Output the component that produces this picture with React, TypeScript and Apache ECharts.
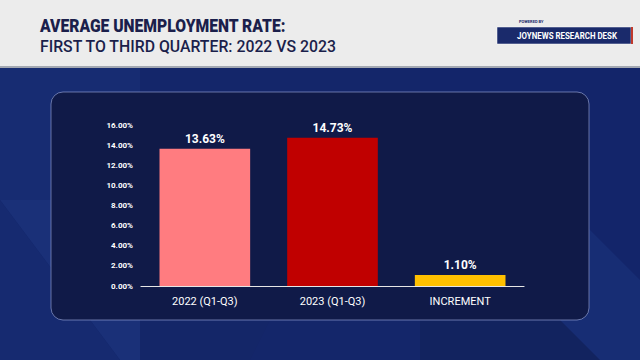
import React, { useEffect, useRef } from "react";
import * as echarts from "echarts";

const categories = ["2022 (Q1-Q3)", "2023 (Q1-Q3)", "INCREMENT"];
const values = [13.63, 14.73, 1.1];
const barColors = ["#ff7c80", "#c00000", "#ffc000"];
const yTicks = { min: 0, max: 16, interval: 2 };
const titleLine1 = "AVERAGE UNEMPLOYMENT RATE:";
const titleLine2 = "FIRST TO THIRD QUARTER: 2022 VS 2023";
const badgeSmall = "POWERED BY";
const badgeText = "JOYNEWS RESEARCH DESK";

export default function App() {
  const ref = useRef<HTMLDivElement>(null);
  useEffect(() => {
    if (!ref.current) return;
    const chart = echarts.init(ref.current, null, { renderer: "svg" });
    chart.setOption({
      animation: false,
      backgroundColor: "#14266a",
      graphic: [
        // background polygons
        { type: "polygon", z: -10, shape: { points: [[0, 68], [140, 68], [140, 200], [0, 200]] }, style: { fill: "#172c72" } },
        { type: "polygon", z: -10, shape: { points: [[0, 200], [140, 200], [140, 360], [120, 360]] }, style: { fill: "#1a3078" } },
        { type: "polygon", z: -10, shape: { points: [[0, 200], [120, 360], [0, 360]] }, style: { fill: "#162a70" } },
        { type: "polygon", z: -10, shape: { points: [[140, 300], [280, 300], [250, 360], [140, 360]] }, style: { fill: "#142668" } },
        { type: "polygon", z: -10, shape: { points: [[420, 68], [640, 68], [640, 280], [560, 200], [420, 90]] }, style: { fill: "#13256a" } },
        { type: "polygon", z: -10, shape: { points: [[560, 200], [640, 280], [640, 360], [560, 360]] }, style: { fill: "#172d74" } },
        { type: "polygon", z: -10, shape: { points: [[420, 320], [560, 320], [600, 360], [420, 360]] }, style: { fill: "#12235f" } },
        // header
        { type: "rect", z: -5, shape: { x: 0, y: 0, width: 640, height: 66 }, style: { fill: "#ececec" } },
        { type: "rect", z: -5, shape: { x: 0, y: 66, width: 640, height: 2 }, style: { fill: "#a3a8b2" } },
        { type: "text", z: 5, x: 40, y: 17, scaleX: 0.87, style: { text: titleLine1, fill: "#1b1f4b", font: "900 18px Roboto", verticalAlign: "top" } },
        { type: "text", z: 5, x: 40, y: 38, scaleX: 0.93, style: { text: titleLine2, fill: "#1b1f4b", font: "500 17px Roboto", verticalAlign: "top" } },
        { type: "text", z: 5, x: 519, y: 19, style: { text: badgeSmall, fill: "#1b2a6b", font: "bold 4px Roboto", verticalAlign: "top" } },
        { type: "rect", z: 5, shape: { x: 497, y: 27, width: 134, height: 17 }, style: { fill: "#1a2a6b", stroke: "#ffffff", lineWidth: 0.5 } },
        { type: "rect", z: 5, shape: { x: 631, y: 27, width: 2, height: 17 }, style: { fill: "#c0392b" } },
        { type: "text", z: 6, x: 567, y: 35.5, scaleX: 0.88, style: { text: badgeText, fill: "#ffffff", font: "bold 9px Roboto", align: "center", verticalAlign: "middle" } },
        // panel
        { type: "rect", z: -4, shape: { x: 51, y: 92, width: 538, height: 228, r: 12 }, style: { fill: "#101a48", stroke: "rgba(150,165,215,0.65)", lineWidth: 1 } },
      ],
      grid: { left: 141, right: 116, top: 125, bottom: 74 },
      xAxis: {
        type: "category",
        data: categories,
        axisLine: { lineStyle: { color: "#e6e6e6", width: 1.2 } },
        axisTick: { show: false },
        axisLabel: { color: "#ffffff", fontSize: 11, fontFamily: "Roboto", margin: 10 },
      },
      yAxis: {
        type: "value",
        min: yTicks.min,
        max: yTicks.max,
        interval: yTicks.interval,
        splitLine: { show: false },
        axisLine: { show: false },
        axisTick: { show: false },
        axisLabel: {
          color: "#ffffff",
          fontSize: 8,
          fontWeight: "bold",
          fontFamily: "Roboto",
          margin: 8,
          formatter: (v: number) => v.toFixed(2) + "%",
        },
      },
      series: [
        {
          type: "bar",
          barWidth: "71%",
          data: values.map((v, i) => ({ value: v, itemStyle: { color: barColors[i] } })),
          label: {
            show: true,
            position: "top",
            distance: 4,
            color: "#ffffff",
            fontSize: 12,
            fontWeight: "bold",
            fontFamily: "Roboto",
            formatter: (p: any) => p.value.toFixed(2) + "%",
          },
        },
      ],
    });
    return () => chart.dispose();
  }, []);
  return (
    <div style={{ position: "fixed", left: 0, top: 0, width: 640, height: 360 }}>
      <div ref={ref} style={{ width: 640, height: 360 }} />
    </div>
  );
}
